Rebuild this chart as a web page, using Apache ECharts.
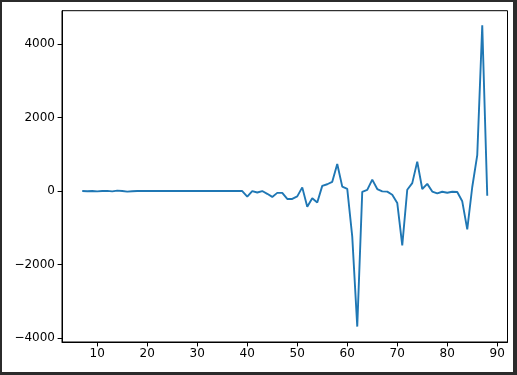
<!DOCTYPE html>
<html>
<head>
<meta charset="utf-8">
<script src="https://cdn.jsdelivr.net/npm/echarts@6/dist/echarts.min.js"></script>
<style>
html,body{margin:0;padding:0;background:#fff;}
#wrap{position:relative;width:517px;height:375px;overflow:hidden;}
#chart{position:absolute;left:0;top:0;width:517px;height:375px;}
.edge{position:absolute;background:#2b2b2b;}
</style>
</head>
<body>
<div id="wrap">
<div id="chart"></div>
<div class="edge" style="left:0;top:0;width:517px;height:2px;"></div>
<div class="edge" style="left:0;top:0;width:2px;height:375px;"></div>
<div class="edge" style="right:0;top:0;width:4px;height:375px;"></div>
<div class="edge" style="left:0;bottom:0;width:517px;height:3px;"></div>
</div>
<script>
// x positions (integer steps)
const xValues = [7,8,9,10,11,12,13,14,15,16,17,18,19,20,21,22,23,24,25,26,27,28,29,30,31,32,33,34,35,36,37,38,39,
  40,41,42,43,44,45,46,47,48,49,50,51,52,53,54,55,56,57,58,59,60,61,62,63,64,65,66,67,68,69,70,71,72,73,74,75,76,77,78,79,80,81,82,83,84,85,86,87,88];
// series values
const yValues = [0,-5,0,-10,0,5,-10,10,0,-15,-5,0,0,0,0,0,0,0,0,0,0,0,0,0,0,0,0,0,0,0,0,0,0,
  -150,0,-40,0,-75,-160,-50,-50,-215,-215,-145,100,-430,-195,-310,140,185,250,735,120,60,-1240,-3690,-20,30,310,55,-10,-15,-100,-325,-1480,35,215,800,55,195,-15,-65,-20,-45,-20,-28,-280,-1045,110,980,4510,-130];
// tick labels
const xTicks = [10,20,30,40,50,60,70,80,90];
const yTicks = [-4000,-2000,0,2000,4000];

const data = xValues.map((x,i)=>[x,yValues[i]]);
const fmt = v => String(v).replace('-', '\u2212');
const font = {fontFamily:'DejaVu Sans', fontSize:12, color:'#000'};

const chart = echarts.init(document.getElementById('chart'), null, {renderer:'canvas'});
chart.setOption({
  animation:false,
  backgroundColor:'#fff',
  grid:{left:62, right:9.5, top:10.7, bottom:33, show:true, borderColor:'#000', borderWidth:1, containLabel:false},
  xAxis:{
    type:'value', min:2.95, max:92.05,
    axisLine:{show:true, onZero:false, lineStyle:{color:'#000', width:1}},
    axisTick:{show:true, inside:false, length:4.4, lineStyle:{color:'#000', width:1}, customValues:xTicks},
    axisLabel:Object.assign({show:true, margin:6, formatter:fmt, customValues:xTicks}, font),
    splitLine:{show:false}
  },
  yAxis:{
    type:'value', min:-4110, max:4910,
    axisLine:{show:true, onZero:false, lineStyle:{color:'#000', width:1}},
    axisTick:{show:true, inside:false, length:4.4, lineStyle:{color:'#000', width:1}, customValues:yTicks},
    axisLabel:Object.assign({show:true, margin:7, formatter:fmt, customValues:yTicks}, font),
    splitLine:{show:false}
  },
  series:[{
    type:'line', data:data, showSymbol:false, symbol:'none',
    lineStyle:{color:'#1f77b4', width:1.9}, itemStyle:{color:'#1f77b4'}
  }]
});
</script>
</body>
</html>
